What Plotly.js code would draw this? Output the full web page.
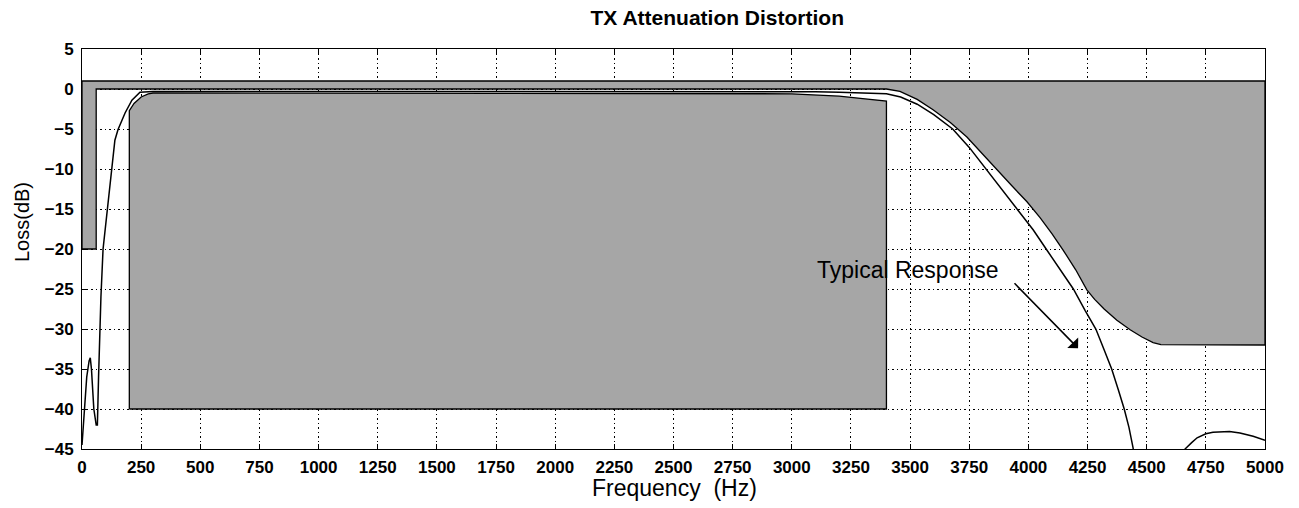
<!DOCTYPE html>
<html>
<head>
<meta charset="utf-8">
<script src="https://cdn.plot.ly/plotly-3.0.1.min.js"></script>
<style>
  html, body { margin: 0; padding: 0; background: #ffffff; }
  #chart { width: 1299px; height: 508px; }
</style>
</head>
<body>
<div id="chart"></div>
<script>
// ---- Data ----
const xTicks = [0,250,500,750,1000,1250,1500,1750,2000,2250,2500,2750,3000,3250,3500,3750,4000,4250,4500,4750,5000];
const yTicks = [5,0,-5,-10,-15,-20,-25,-30,-35,-40,-45];

// Upper limit mask (gray region above the limit line, up to +1 dB)
const upperFreq = [0, 5000, 5000, 4600, 4560, 4527, 4480, 4430, 4374, 4320, 4280, 4247, 4200, 4146, 4100, 4050, 3994, 3930, 3867, 3800, 3740, 3670, 3597, 3530, 3457, 3400, 60, 60, 0, 0];
const upperLoss = [1, 1, -32, -32, -31.95, -31.7, -31.0, -30.1, -28.9, -27.5, -26.3, -25.1, -22.6, -20.1, -18.1, -16.1, -14.1, -12.1, -10.1, -7.9, -6.0, -4.2, -2.6, -1.3, -0.3, 0, 0, -20, -20, 1];

// Lower limit mask (gray region below the limit line, down to -40 dB)
const lowerFreq = [200, 200, 220, 250, 280, 300, 3000, 3200, 3300, 3400, 3400, 200];
const lowerLoss = [-40, -2.7, -1.8, -1.0, -0.6, -0.5, -0.6, -0.9, -1.2, -1.5, -40, -40];

// Typical response
const respFreq = [0, 10, 20, 30, 35, 40, 50, 60, 65, 70, 75, 80, 89, 100, 110, 127, 139, 152, 182, 211, 245, 300, 1000, 2000, 3000, 3100, 3200, 3300, 3400, 3460, 3530, 3600, 3680, 3750, 3820, 3890, 3950, 4020, 4075, 4135, 4190, 4240, 4285, 4320, 4352, 4380, 4405, 4425, 4442, 4480, 4560, 4640, 4662, 4690, 4713, 4750, 4780, 4850, 4894, 4950, 5000];
const respLoss = [-44.5, -40, -36, -34, -33.6, -35, -40, -42, -42, -36, -30, -26, -20, -17, -14.7, -10.1, -6.4, -5.1, -3.0, -1.4, -0.4, -0.3, -0.3, -0.3, -0.3, -0.35, -0.4, -0.5, -0.6, -1.0, -1.9, -3.2, -5.0, -7.3, -10.0, -12.6, -15.0, -17.6, -20.0, -22.6, -25.0, -27.7, -30.0, -32.6, -35.0, -37.6, -40.0, -42.3, -44.8, -52, -60, -52, -45, -44.2, -43.6, -43.1, -42.9, -42.8, -43.0, -43.4, -43.9];

const titleText = "TX Attenuation Distortion";
const xTitle = "Frequency  (Hz)";
const yTitle = "Loss(dB)";
const noteText = "Typical Response";
const notePos = [3491, -22.6];
const arrowTail = [3935, -24.1];
const arrowHead = [4210, -32.4];

const gray = "#a6a6a6";
const font = "Liberation Sans, Arial, sans-serif";

const traces = [
  {x: upperFreq, y: upperLoss, type: "scatter", mode: "lines", fill: "toself", fillcolor: gray,
   line: {color: "#000", width: 1.3}, hoverinfo: "skip", showlegend: false},
  {x: lowerFreq, y: lowerLoss, type: "scatter", mode: "lines", fill: "toself", fillcolor: gray,
   line: {color: "#000", width: 1.3}, hoverinfo: "skip", showlegend: false},
  {x: respFreq, y: respLoss, type: "scatter", mode: "lines",
   line: {color: "#000", width: 1.5}, hoverinfo: "skip", showlegend: false}
];

const axisCommon = {
  showline: true, linecolor: "#000", linewidth: 1, mirror: "ticks",
  ticks: "inside", ticklen: 5, tickcolor: "#000", tickwidth: 1,
  showgrid: true, gridcolor: "#000", gridwidth: 1, griddash: "2px,3px,1px,3px",
  zeroline: false, tickfont: {family: font, size: 17, color: "#000", weight: "bold"},
  layer: "below traces"
};

const layout = {
  width: 1299, height: 508,
  margin: {l: 82, r: 34, t: 49, b: 59, pad: 0},
  paper_bgcolor: "#fff", plot_bgcolor: "#fff",
  title: {text: "<b>" + titleText + "</b>", font: {family: font, size: 21, color: "#000"},
          x: 0.537, xref: "paper", xanchor: "center", y: 0.966, yref: "container", yanchor: "middle"},
  xaxis: Object.assign({}, axisCommon, {range: [0, 5000], tickvals: xTicks, ticktext: xTicks.map(String), ticklabelstandoff: 3}),
  yaxis: Object.assign({}, axisCommon, {range: [-45, 5], tickvals: yTicks, ticklabelstandoff: 4}),
  annotations: [
    {text: xTitle, xref: "paper", yref: "paper", x: 0.501, y: -0.097, xanchor: "center", yanchor: "middle",
     showarrow: false, font: {family: font, size: 23, color: "#000"}},
    {text: yTitle, xref: "paper", yref: "paper", x: -0.0507, y: 0.5675, xanchor: "center", yanchor: "middle",
     textangle: -90, showarrow: false, font: {family: font, size: 20, color: "#000"}},
    {text: noteText, x: notePos[0], y: notePos[1], xref: "x", yref: "y", showarrow: false,
     font: {family: font, size: 23, color: "#000"}},
    {text: "", x: arrowHead[0], y: arrowHead[1], ax: arrowTail[0], ay: arrowTail[1], axref: "x", ayref: "y",
     xref: "x", yref: "y", showarrow: true, arrowhead: 1, arrowsize: 1.7, arrowwidth: 1.5, arrowcolor: "#000"}
  ]
};

Plotly.newPlot("chart", traces, layout, {displayModeBar: false, staticPlot: true});
</script>
</body>
</html>
